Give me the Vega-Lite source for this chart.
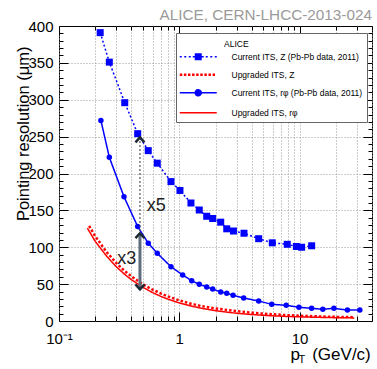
{
  "$schema": "https://vega.github.io/schema/vega-lite/v6.json",
  "width": 313,
  "height": 295,
  "autosize": "none",
  "padding": {"left": 59, "top": 26, "right": 5, "bottom": 48},
  "background": "white",
  "config": {
    "view": {"stroke": "#000", "strokeWidth": 1},
    "font": "Liberation Sans",
    "axis": {"labelFont": "Liberation Sans", "titleFont": "Liberation Sans", "domain": false, "tickColor": "#000", "tickWidth": 1, "labelColor": "#000", "titleColor": "#000", "titleFontWeight": "normal"},
    "legend": {"labelFont": "Liberation Sans", "titleFont": "Liberation Sans"}
  },
  "title": {"text": "ALICE, CERN-LHCC-2013-024", "anchor": "end", "frame": "group", "fontSize": 15.3, "fontWeight": "normal", "color": "#9a9a9a", "offset": 6, "dy": 22, "baseline": "alphabetic", "font": "Liberation Sans"},
  "datasets": {
    "curves": [
      {"series": "Current ITS, Z (Pb-Pb data, 2011)", "pt": 0.22, "res": 391},
      {"series": "Current ITS, Z (Pb-Pb data, 2011)", "pt": 0.262, "res": 351},
      {"series": "Current ITS, Z (Pb-Pb data, 2011)", "pt": 0.352, "res": 296},
      {"series": "Current ITS, Z (Pb-Pb data, 2011)", "pt": 0.451, "res": 254},
      {"series": "Current ITS, Z (Pb-Pb data, 2011)", "pt": 0.552, "res": 231},
      {"series": "Current ITS, Z (Pb-Pb data, 2011)", "pt": 0.656, "res": 214},
      {"series": "Current ITS, Z (Pb-Pb data, 2011)", "pt": 0.853, "res": 189},
      {"series": "Current ITS, Z (Pb-Pb data, 2011)", "pt": 1.013, "res": 177},
      {"series": "Current ITS, Z (Pb-Pb data, 2011)", "pt": 1.25, "res": 160},
      {"series": "Current ITS, Z (Pb-Pb data, 2011)", "pt": 1.466, "res": 150.5},
      {"series": "Current ITS, Z (Pb-Pb data, 2011)", "pt": 1.69, "res": 142},
      {"series": "Current ITS, Z (Pb-Pb data, 2011)", "pt": 1.895, "res": 139},
      {"series": "Current ITS, Z (Pb-Pb data, 2011)", "pt": 2.21, "res": 134},
      {"series": "Current ITS, Z (Pb-Pb data, 2011)", "pt": 2.48, "res": 125},
      {"series": "Current ITS, Z (Pb-Pb data, 2011)", "pt": 2.82, "res": 122},
      {"series": "Current ITS, Z (Pb-Pb data, 2011)", "pt": 3.45, "res": 119},
      {"series": "Current ITS, Z (Pb-Pb data, 2011)", "pt": 4.57, "res": 111.6},
      {"series": "Current ITS, Z (Pb-Pb data, 2011)", "pt": 5.93, "res": 106},
      {"series": "Current ITS, Z (Pb-Pb data, 2011)", "pt": 7.9, "res": 104},
      {"series": "Current ITS, Z (Pb-Pb data, 2011)", "pt": 9.4, "res": 101},
      {"series": "Current ITS, Z (Pb-Pb data, 2011)", "pt": 10.4, "res": 100},
      {"series": "Current ITS, Z (Pb-Pb data, 2011)", "pt": 12.6, "res": 102},
      {"series": "Current ITS, rφ (Pb-Pb data, 2011)", "pt": 0.223, "res": 272},
      {"series": "Current ITS, rφ (Pb-Pb data, 2011)", "pt": 0.262, "res": 222},
      {"series": "Current ITS, rφ (Pb-Pb data, 2011)", "pt": 0.347, "res": 168.5},
      {"series": "Current ITS, rφ (Pb-Pb data, 2011)", "pt": 0.451, "res": 128},
      {"series": "Current ITS, rφ (Pb-Pb data, 2011)", "pt": 0.552, "res": 105.4},
      {"series": "Current ITS, rφ (Pb-Pb data, 2011)", "pt": 0.656, "res": 91.8},
      {"series": "Current ITS, rφ (Pb-Pb data, 2011)", "pt": 0.853, "res": 73.6},
      {"series": "Current ITS, rφ (Pb-Pb data, 2011)", "pt": 1.067, "res": 62.4},
      {"series": "Current ITS, rφ (Pb-Pb data, 2011)", "pt": 1.268, "res": 54.6},
      {"series": "Current ITS, rφ (Pb-Pb data, 2011)", "pt": 1.466, "res": 49.8},
      {"series": "Current ITS, rφ (Pb-Pb data, 2011)", "pt": 1.69, "res": 46.1},
      {"series": "Current ITS, rφ (Pb-Pb data, 2011)", "pt": 1.895, "res": 43.4},
      {"series": "Current ITS, rφ (Pb-Pb data, 2011)", "pt": 2.21, "res": 39.3},
      {"series": "Current ITS, rφ (Pb-Pb data, 2011)", "pt": 2.48, "res": 37.6},
      {"series": "Current ITS, rφ (Pb-Pb data, 2011)", "pt": 2.8, "res": 34.8},
      {"series": "Current ITS, rφ (Pb-Pb data, 2011)", "pt": 3.43, "res": 31.2},
      {"series": "Current ITS, rφ (Pb-Pb data, 2011)", "pt": 4.57, "res": 27.1},
      {"series": "Current ITS, rφ (Pb-Pb data, 2011)", "pt": 5.87, "res": 22.6},
      {"series": "Current ITS, rφ (Pb-Pb data, 2011)", "pt": 7.74, "res": 21.3},
      {"series": "Current ITS, rφ (Pb-Pb data, 2011)", "pt": 9.88, "res": 18.6},
      {"series": "Current ITS, rφ (Pb-Pb data, 2011)", "pt": 12.6, "res": 17.2},
      {"series": "Current ITS, rφ (Pb-Pb data, 2011)", "pt": 15.6, "res": 15.9},
      {"series": "Current ITS, rφ (Pb-Pb data, 2011)", "pt": 19.3, "res": 17.2},
      {"series": "Current ITS, rφ (Pb-Pb data, 2011)", "pt": 25, "res": 14.9},
      {"series": "Current ITS, rφ (Pb-Pb data, 2011)", "pt": 31.7, "res": 14.9},
      {"series": "Upgraded ITS, Z", "pt": 0.178, "res": 129},
      {"series": "Upgraded ITS, Z", "pt": 0.2, "res": 115},
      {"series": "Upgraded ITS, Z", "pt": 0.25, "res": 93},
      {"series": "Upgraded ITS, Z", "pt": 0.3, "res": 78.5},
      {"series": "Upgraded ITS, Z", "pt": 0.35, "res": 68},
      {"series": "Upgraded ITS, Z", "pt": 0.4, "res": 60.5},
      {"series": "Upgraded ITS, Z", "pt": 0.5, "res": 49.5},
      {"series": "Upgraded ITS, Z", "pt": 0.6, "res": 42.5},
      {"series": "Upgraded ITS, Z", "pt": 0.7, "res": 37.5},
      {"series": "Upgraded ITS, Z", "pt": 0.8, "res": 33.5},
      {"series": "Upgraded ITS, Z", "pt": 1.0, "res": 28},
      {"series": "Upgraded ITS, Z", "pt": 1.25, "res": 23.5},
      {"series": "Upgraded ITS, Z", "pt": 1.5, "res": 20.5},
      {"series": "Upgraded ITS, Z", "pt": 2, "res": 17},
      {"series": "Upgraded ITS, Z", "pt": 2.5, "res": 15},
      {"series": "Upgraded ITS, Z", "pt": 3, "res": 13.3},
      {"series": "Upgraded ITS, Z", "pt": 4, "res": 11.3},
      {"series": "Upgraded ITS, Z", "pt": 5, "res": 10},
      {"series": "Upgraded ITS, Z", "pt": 6, "res": 9.1},
      {"series": "Upgraded ITS, Z", "pt": 8, "res": 7.9},
      {"series": "Upgraded ITS, Z", "pt": 10, "res": 7.1},
      {"series": "Upgraded ITS, Z", "pt": 15, "res": 6.1},
      {"series": "Upgraded ITS, Z", "pt": 20, "res": 5.6},
      {"series": "Upgraded ITS, Z", "pt": 28.5, "res": 5.2},
      {"series": "Upgraded ITS, rφ", "pt": 0.172, "res": 126},
      {"series": "Upgraded ITS, rφ", "pt": 0.2, "res": 108},
      {"series": "Upgraded ITS, rφ", "pt": 0.25, "res": 87.5},
      {"series": "Upgraded ITS, rφ", "pt": 0.3, "res": 73.5},
      {"series": "Upgraded ITS, rφ", "pt": 0.35, "res": 63.5},
      {"series": "Upgraded ITS, rφ", "pt": 0.4, "res": 56},
      {"series": "Upgraded ITS, rφ", "pt": 0.5, "res": 45.5},
      {"series": "Upgraded ITS, rφ", "pt": 0.6, "res": 38.5},
      {"series": "Upgraded ITS, rφ", "pt": 0.7, "res": 33.5},
      {"series": "Upgraded ITS, rφ", "pt": 0.8, "res": 29.8},
      {"series": "Upgraded ITS, rφ", "pt": 1.0, "res": 24.5},
      {"series": "Upgraded ITS, rφ", "pt": 1.25, "res": 20.3},
      {"series": "Upgraded ITS, rφ", "pt": 1.5, "res": 17.5},
      {"series": "Upgraded ITS, rφ", "pt": 2, "res": 14},
      {"series": "Upgraded ITS, rφ", "pt": 2.5, "res": 12},
      {"series": "Upgraded ITS, rφ", "pt": 3, "res": 10.5},
      {"series": "Upgraded ITS, rφ", "pt": 4, "res": 8.8},
      {"series": "Upgraded ITS, rφ", "pt": 5, "res": 7.7},
      {"series": "Upgraded ITS, rφ", "pt": 6, "res": 7},
      {"series": "Upgraded ITS, rφ", "pt": 8, "res": 6.1},
      {"series": "Upgraded ITS, rφ", "pt": 10, "res": 5.6},
      {"series": "Upgraded ITS, rφ", "pt": 15, "res": 4.9},
      {"series": "Upgraded ITS, rφ", "pt": 20, "res": 4.5},
      {"series": "Upgraded ITS, rφ", "pt": 28.5, "res": 4.2}
    ],
    "arrows": [
      {"kind": "x5", "pt": 0.471, "lo": 122, "hi": 250},
      {"kind": "x3", "pt": 0.471, "lo": 44, "hi": 119}
    ],
    "heads": [
      {"pt": 0.471, "v": 249, "dir": "up"},
      {"pt": 0.471, "v": 119, "dir": "up"},
      {"pt": 0.471, "v": 43, "dir": "down"}
    ],
    "notes": [
      {"pt": 0.536, "v": 155.5, "t": "x5"},
      {"pt": 0.305, "v": 84, "t": "x3"}
    ]
  },
  "resolve": {"axis": {"x": "independent", "y": "independent"}},
  "layer": [
    {
      "data": {"name": "curves"},
      "transform": [{"filter": "indexof(datum.series, 'Current') === 0"}],
      "mark": {"type": "line", "strokeWidth": 1.5},
      "encoding": {
        "x": {"field": "pt", "type": "quantitative", "scale": {"type": "log", "domain": [0.1, 40], "nice": false},
          "axis": {"orient": "bottom", "values": [0.1, 1, 10], "ticks": false, "grid": false, "labelExpr": "datum.value < 0.5 ? '10⁻¹' : (datum.value < 5 ? '1' : '10')", "labelFontSize": 15, "labelPadding": 10, "labelFlush": false, "labelOverlap": false,
            "title": "p", "titleFontSize": 17, "titleX": 231, "titleY": 38, "titleAlign": "left", "titleBaseline": "alphabetic"}},
        "y": {"field": "res", "type": "quantitative", "scale": {"domain": [0, 400], "nice": false},
          "axis": {"orient": "left", "values": [0, 50, 100, 150, 200, 250, 300, 350, 400], "ticks": false, "grid": false, "labelFontSize": 15, "labelPadding": 6, "labelFlush": false, "labelOverlap": false, "labelBound": false,
            "title": "Pointing resolution  (μm)", "titleFontSize": 16.5, "titleAngle": -90, "titleAlign": "right", "titleBaseline": "middle", "titleX": -35.5, "titleY": 20}},
        "color": {"field": "series", "type": "nominal",
          "scale": {"domain": ["Current ITS, Z (Pb-Pb data, 2011)", "Upgraded ITS, Z", "Current ITS, rφ (Pb-Pb data, 2011)", "Upgraded ITS, rφ"], "range": ["#0000ff", "#ff0000", "#0000ff", "#ff0000"]},
          "legend": {"orient": "none", "legendX": 117, "legendY": 7, "title": "ALICE", "titleFontSize": 8.5, "titleFontWeight": "normal", "titleColor": "#000", "titlePadding": 5,
            "labelFontSize": 8.5, "labelColor": "#000", "symbolSize": 100, "symbolOffset": 14, "labelOffset": 29, "rowPadding": 7, "padding": 4,
            "fillColor": "#fff", "strokeColor": "#666",
            "encode": {
              "symbols": {"update": {
                "shape": {"signal": "datum.index === 0 ? 'M-3.7,0.25h0.4v0.3h-0.4Z M-2.8,0.25h0.4v0.3h-0.4Z M-1.9,0.25h0.4v0.3h-0.4Z M-1.1,0.25h0.4v0.3h-0.4Z M0.7,0.25h0.4v0.3h-0.4Z M1.5,0.25h0.4v0.3h-0.4Z M2.4,0.25h0.4v0.3h-0.4Z M3.3,0.25h0.4v0.3h-0.4Z M-0.7,-0.3H0.7V1.1H-0.7Z' : (datum.index === 1 ? 'M-3.7,0.15h0.5v0.5h-0.5Z M-2.88,0.15h0.5v0.5h-0.5Z M-2.06,0.15h0.5v0.5h-0.5Z M-1.24,0.15h0.5v0.5h-0.5Z M-0.42,0.15h0.5v0.5h-0.5Z M0.4,0.15h0.5v0.5h-0.5Z M1.22,0.15h0.5v0.5h-0.5Z M2.04,0.15h0.5v0.5h-0.5Z M2.86,0.15h0.5v0.5h-0.5Z' : (datum.index === 2 ? 'M-3.7,0.4H3.7M-0.6,0.4A0.6,0.6,0,1,0,0.6,0.4A0.6,0.6,0,1,0,-0.6,0.4Z' : 'M-3.7,0.4H3.7'))"},
                "strokeWidth": {"signal": "datum.index < 2 ? 0 : 1.5"},
                "stroke": {"signal": "datum.index % 2 === 0 ? '#0000ff' : '#ff0000'"},
                "fill": {"signal": "datum.index % 2 === 0 ? '#0000ff' : '#ff0000'"},
                "strokeDash": {"value": [1, 0]},
                "opacity": {"value": 1}, "fillOpacity": {"value": 1}, "strokeOpacity": {"value": 1}
              }},
              "labels": {"update": {"dy": {"value": 2}}},
              "title": {"update": {"dx": {"value": 44}, "dy": {"value": 3}}}
            }}},
        "strokeDash": {"field": "series", "type": "nominal",
          "scale": {"domain": ["Current ITS, Z (Pb-Pb data, 2011)", "Upgraded ITS, Z", "Current ITS, rφ (Pb-Pb data, 2011)", "Upgraded ITS, rφ"], "range": [[2, 2.2], [2.5, 2], [1, 0], [1, 0]]},
          "legend": null}
      }
    },
    {
      "data": {"name": "curves"},
      "transform": [{"filter": "datum.series === 'Upgraded ITS, Z'"}],
      "mark": {"type": "line", "strokeWidth": 2.5},
      "encoding": {
        "x": {"field": "pt", "type": "quantitative",
          "axis": {"orient": "bottom", "values": [0.1, 0.2, 0.3, 0.4, 0.5, 0.6, 0.7, 0.8, 0.9, 1, 2, 3, 4, 5, 6, 7, 8, 9, 10, 20, 30, 40], "labels": false, "tickSize": -5, "grid": true, "gridColor": "#999", "gridDash": [1, 2],
            "title": "T", "titleFontSize": 11, "titleX": 239, "titleY": 41, "titleAlign": "left", "titleBaseline": "alphabetic"}},
        "y": {"field": "res", "type": "quantitative",
          "axis": {"orient": "left", "values": [10, 20, 30, 40, 60, 70, 80, 90, 110, 120, 130, 140, 160, 170, 180, 190, 210, 220, 230, 240, 260, 270, 280, 290, 310, 320, 330, 340, 360, 370, 380, 390], "labels": false, "tickSize": -4, "grid": false, "title": null}},
        "color": {"field": "series", "type": "nominal"},
        "strokeDash": {"field": "series", "type": "nominal"}
      }
    },
    {
      "data": {"name": "curves"},
      "transform": [{"filter": "datum.series === 'Upgraded ITS, rφ'"}],
      "mark": {"type": "line", "strokeWidth": 1.5},
      "encoding": {
        "x": {"field": "pt", "type": "quantitative",
          "axis": {"orient": "bottom", "values": [0.1, 1, 10], "labels": false, "tickSize": -9, "grid": false,
            "title": "(GeV/c)", "titleFontSize": 17, "titleX": 252.7, "titleY": 38, "titleAlign": "left", "titleBaseline": "alphabetic"}},
        "y": {"field": "res", "type": "quantitative",
          "axis": {"orient": "left", "values": [50, 100, 150, 200, 250, 300, 350], "labels": false, "tickSize": -9, "grid": true, "gridColor": "#999", "gridDash": [1, 2], "title": null}},
        "color": {"field": "series", "type": "nominal"},
        "strokeDash": {"field": "series", "type": "nominal"}
      }
    },
    {
      "data": {"name": "curves"},
      "transform": [{"filter": "datum.series === 'Current ITS, Z (Pb-Pb data, 2011)'"}],
      "mark": {"type": "square", "size": 49, "filled": true, "opacity": 1},
      "encoding": {
        "x": {"field": "pt", "type": "quantitative",
          "axis": {"orient": "top", "values": [0.1, 0.2, 0.3, 0.4, 0.5, 0.6, 0.7, 0.8, 0.9, 1, 2, 3, 4, 5, 6, 7, 8, 9, 10, 20, 30, 40], "labels": false, "tickSize": -4, "grid": false, "title": null}},
        "y": {"field": "res", "type": "quantitative",
          "axis": {"orient": "right", "values": [0, 50, 100, 150, 200, 250, 300, 350, 400], "labels": false, "tickSize": -9, "grid": false, "title": null}},
        "color": {"field": "series", "type": "nominal"}
      }
    },
    {
      "data": {"name": "curves"},
      "transform": [{"filter": "datum.series === 'Current ITS, rφ (Pb-Pb data, 2011)'"}],
      "mark": {"type": "circle", "size": 30, "opacity": 1},
      "encoding": {
        "x": {"field": "pt", "type": "quantitative",
          "axis": {"orient": "top", "values": [0.1, 1, 10], "labels": false, "tickSize": -9, "grid": false, "title": null}},
        "y": {"field": "res", "type": "quantitative",
          "axis": {"orient": "right", "values": [10, 20, 30, 40, 60, 70, 80, 90, 110, 120, 130, 140, 160, 170, 180, 190, 210, 220, 230, 240, 260, 270, 280, 290, 310, 320, 330, 340, 360, 370, 380, 390], "labels": false, "tickSize": -4, "grid": false, "title": null}},
        "color": {"field": "series", "type": "nominal"}
      }
    },
    {
      "data": {"name": "arrows"},
      "transform": [{"filter": "datum.kind === 'x5'"}],
      "mark": {"type": "rule", "color": "#555", "strokeWidth": 1.2, "strokeDash": [2, 2]},
      "encoding": {
        "x": {"field": "pt", "type": "quantitative", "axis": null},
        "y": {"field": "lo", "type": "quantitative", "axis": null},
        "y2": {"field": "hi"}
      }
    },
    {
      "data": {"name": "arrows"},
      "transform": [{"filter": "datum.kind === 'x3'"}],
      "mark": {"type": "rule", "color": "#5d6d7e", "strokeWidth": 3},
      "encoding": {
        "x": {"field": "pt", "type": "quantitative", "axis": null},
        "y": {"field": "lo", "type": "quantitative", "axis": null},
        "y2": {"field": "hi"}
      }
    },
    {
      "data": {"name": "heads"},
      "mark": {"type": "point", "filled": false, "size": 81, "strokeWidth": 2.5, "color": "#1c2833", "opacity": 1},
      "encoding": {
        "x": {"field": "pt", "type": "quantitative", "axis": null},
        "y": {"field": "v", "type": "quantitative", "axis": null},
        "shape": {"field": "dir", "type": "nominal", "scale": {"domain": ["up", "down"], "range": ["M-1,1.1L0,0L1,1.1", "M-1,-1.1L0,0L1,-1.1"]}, "legend": null}
      }
    },
    {
      "data": {"name": "notes"},
      "mark": {"type": "text", "align": "left", "baseline": "middle", "fontSize": 18, "color": "#222", "font": "Liberation Sans"},
      "encoding": {
        "x": {"field": "pt", "type": "quantitative", "axis": null},
        "y": {"field": "v", "type": "quantitative", "axis": null},
        "text": {"field": "t"}
      }
    }
  ]
}
